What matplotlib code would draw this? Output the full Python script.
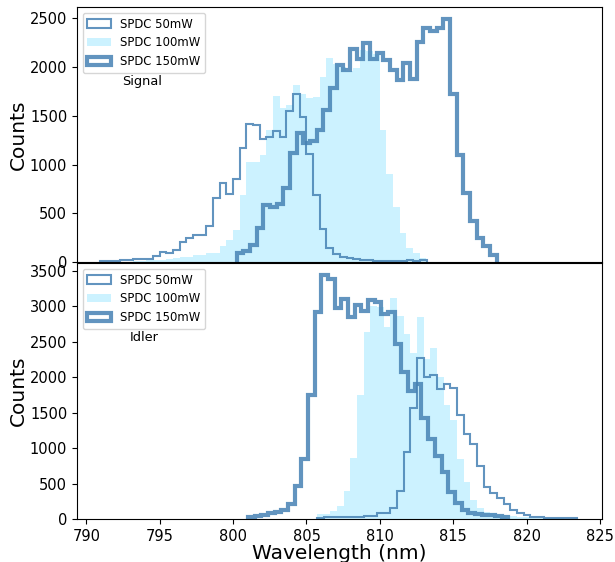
import numpy as np
import matplotlib
matplotlib.use("Agg")
import matplotlib.pyplot as plt

# ---------------- data ----------------
bin_width = 0.4545  # nm

sig50_start = 790.91
sig50_counts = [15, 15, 15, 20, 20, 35, 35, 35, 60, 110, 100, 128, 212, 247, 280,
                280, 372, 661, 808, 699, 849, 1175, 1416, 1410, 1268, 1285, 1346,
                1285, 1550, 1720, 1489, 1109, 689, 339, 145, 80, 50, 43, 30, 26,
                20, 15, 15, 15, 15, 15, 20, 15, 20]

sig100_start = 793.18
sig100_counts = [10, 15, 20, 26, 26, 30, 43, 59, 59, 70, 75, 94, 97, 165, 225,
                 332, 692, 1025, 1025, 1100, 1355, 1703, 1584, 1612, 1816, 1728,
                 1680, 1695, 1895, 2093, 2028, 2000, 1960, 1990, 2170, 2160, 2130,
                 1360, 906, 564, 300, 145, 92, 46]

sig150_start = 800.23
sig150_counts = [94, 120, 178, 348, 587, 570, 597, 757, 1115, 1326, 1217, 1244,
                 1360, 1555, 1787, 2023, 1965, 2183, 2081, 2243, 2081, 2148, 2068,
                 1965, 1870, 2039, 1880, 2253, 2400, 2370, 2400, 2490, 1726, 1097,
                 710, 424, 248, 163, 78]

idl50_start = 805.72
idl50_counts = [19, 23, 23, 33, 33, 33, 33, 47, 47, 80, 80, 160, 394, 946, 1570,
                2273, 2001, 2034, 1837, 1908, 1852, 1462, 1195, 1054, 745, 455,
                370, 291, 211, 127, 89, 56, 33, 33, 19, 19, 19, 14, 14]

idl100_start = 805.72
idl100_counts = [66, 75, 112, 187, 394, 862, 1743, 2634, 3009, 2990, 2704, 3117,
                 2868, 2611, 2344, 2845, 2260, 2409, 2000, 1603, 1392, 853, 525,
                 267, 150, 103, 80, 56, 56, 40, 30, 25, 20, 15, 15, 10, 10]

idl150_start = 801.02
idl150_counts = [33, 47, 60, 89, 103, 127, 206, 464, 844, 1743, 2915, 3440, 3393,
                 2977, 3103, 2845, 3019, 2939, 3089, 3056, 2892, 2925, 2470, 2071,
                 1800, 1900, 1430, 1134, 886, 665, 375, 220, 127, 89, 70, 60, 52,
                 45, 23]

labels = ["SPDC 50mW", "SPDC 100mW", "SPDC 150mW"]
panel_names = ["Signal", "Idler"]
x_label = "Wavelength (nm)"
y_label = "Counts"


def edges_for(start, counts):
    return start + bin_width * np.arange(len(counts) + 1)


line_color = "steelblue"
fill_color = "deepskyblue"

fig = plt.figure(figsize=(6.15, 5.62), dpi=100)
ax1 = fig.add_axes([0.1252, 0.5333, 0.8537, 0.4542])
ax2 = fig.add_axes([0.1252, 0.0765, 0.8537, 0.4555], sharex=ax1)

panels = [
    (ax1, (sig50_start, sig50_counts), (sig100_start, sig100_counts), (sig150_start, sig150_counts)),
    (ax2, (idl50_start, idl50_counts), (idl100_start, idl100_counts), (idl150_start, idl150_counts)),
]

for (ax, s50, s100, s150), name in zip(panels, panel_names):
    e = edges_for(*s50)
    ax.hist(e[:-1], bins=e, weights=s50[1], histtype="step", color=line_color,
            alpha=0.85, lw=1.5, label=labels[0])
    e = edges_for(*s100)
    ax.hist(e[:-1], bins=e, weights=s100[1], histtype="stepfilled",
            color=fill_color, alpha=0.2, lw=0, label=labels[1])
    e = edges_for(*s150)
    ax.hist(e[:-1], bins=e, weights=s150[1], histtype="step", color=line_color,
            alpha=0.85, lw=3, label=labels[2])
    ax.legend(loc="upper left", fontsize=8.4)
    ax.text(0.085 if name == "Signal" else 0.1, 0.71, name, transform=ax.transAxes,
            fontsize=9.3, va="center", ha="left")
    ax.set_ylabel(y_label, fontsize=14.5, labelpad=1.5)
    ax.tick_params(labelsize=10.5)

ax1.tick_params(labelbottom=False)
ax2.set_xlabel(x_label, fontsize=14.5, labelpad=0)
ax2.set_xticks([790, 795, 800, 805, 810, 815, 820, 825])
ax1.set_yticks([0, 500, 1000, 1500, 2000, 2500])
ax2.set_yticks([0, 500, 1000, 1500, 2000, 2500, 3000, 3500])
ax1.set_xlim(789.36, 825.14)
ax1.set_ylim(0, 2615)
ax2.set_ylim(0, 3612)

fig.savefig("out.png", dpi=100)
